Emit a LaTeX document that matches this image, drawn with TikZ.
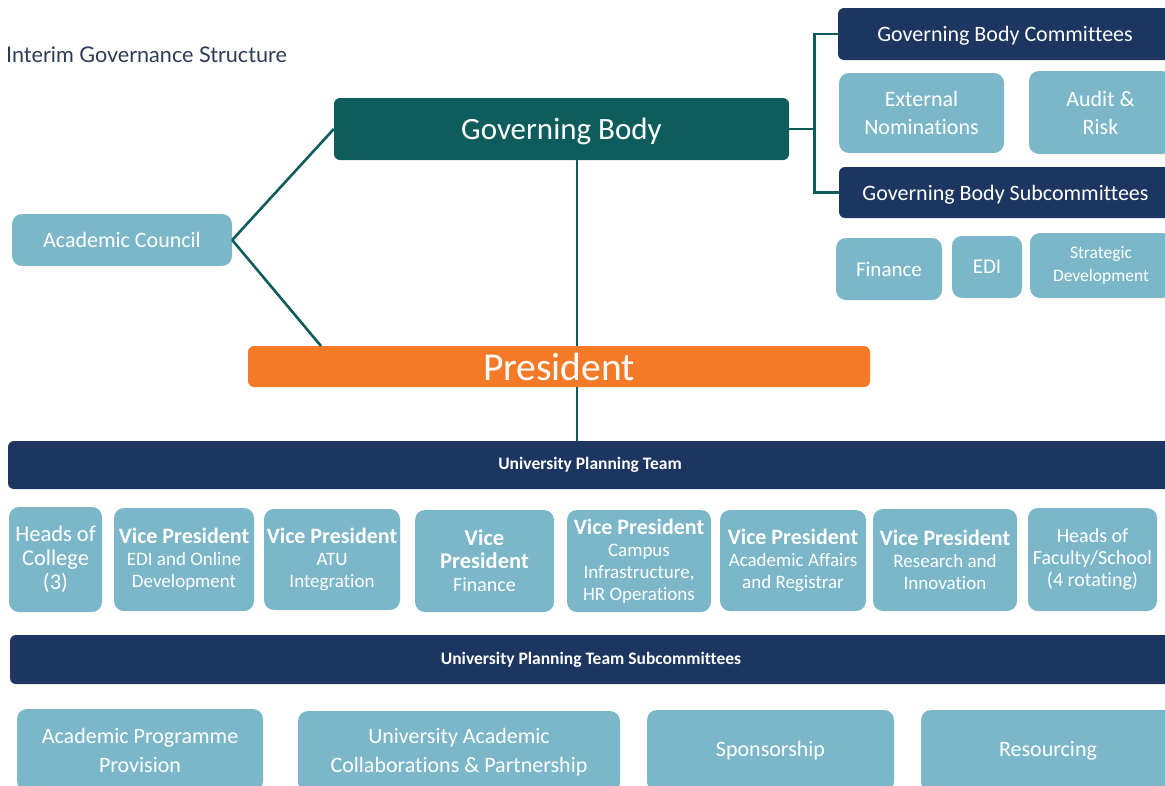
\documentclass[tikz,border=0pt]{standalone}
\usepackage{fontspec}
\setmainfont{Carlito}[Ligatures=NoCommon]
\newfontfamily\headfont{Lato}
\definecolor{gbteal}{HTML}{0E5C5C}
\definecolor{navy}{HTML}{1C3661}
\definecolor{lightblue}{HTML}{7BB7C8}
\definecolor{presorange}{HTML}{F47A28}
\definecolor{titlecol}{HTML}{2D3B55}
\newcommand\setfs[2]{\fontsize{#1}{#2}\selectfont}
\newcommand\vp{{\setfs{22}{22}\bfseries Vice President}}
\begin{document}
\begin{tikzpicture}[x=1pt,y=-1pt,
  box/.style={rounded corners=6pt, text=white, align=center, inner sep=0pt},
  darkbox/.style={box, fill=gbteal},
  navybox/.style={box, fill=navy},
  lightbox/.style={box, fill=lightblue, rounded corners=10pt},
  rowbox/.style={lightbox, font=\setfs{19}{22}},
  lowbox/.style={lightbox, font=\setfs{22}{29}, minimum height=82},
  link/.style={draw=gbteal, line width=2.6pt},
  ]
\useasboundingbox (0,0) rectangle (1165,785);
\clip (0,0) rectangle (1165,785);

\node[anchor=base west, text=titlecol, font=\headfont\setfs{21.6}{24}, inner sep=0pt] (title) at (6,62) {Interim Governance Structure};

% governing body side
\node[darkbox, minimum width=455, minimum height=62, text depth=0pt, font=\setfs{31}{34}] (gb) at (561.5,129) {Governing Body};
\node[lightbox, minimum width=220, minimum height=52, font=\setfs{22}{24}] (ac) at (122,240) {Academic Council};
\node[box, fill=presorange, minimum width=622, minimum height=41, font=\setfs{39.5}{40}] (pres) at (559,366.5) {President};

\node[navybox, minimum width=334, minimum height=52, text depth=0pt, font=\setfs{22}{24}] (gbc) at (1005,34) {Governing Body Committees};
\node[lightbox, minimum width=165, minimum height=80, font=\setfs{22}{28}] (extnom) at (921.5,113) {External\\Nominations};
\node[lightbox, minimum width=143, minimum height=83, font=\setfs{22}{28}] (audit) at (1100.5,112.5) {Audit \&\\Risk};
\node[navybox, minimum width=333, minimum height=51, text depth=0pt, font=\setfs{22}{24}] (gbs) at (1005.5,192.5) {Governing Body Subcommittees};
\node[lightbox, minimum width=106, minimum height=62, font=\setfs{21}{24}] (fin) at (889,269) {Finance};
\node[lightbox, minimum width=70, minimum height=62, font=\setfs{21}{24}] (edi) at (987,267) {EDI};
\node[lightbox, minimum width=142, minimum height=65, font=\setfs{17.5}{23}] (strat) at (1101,265.5) {Strategic\\Development};

% planning team
\node[navybox, minimum width=1164, minimum height=48, font=\setfs{17.5}{18}\bfseries] (upt) at (590,465) {University Planning Team};

\node[rowbox, minimum width=93, minimum height=105, font=\setfs{22.5}{24}] (hoc) at (55.5,559.5) {Heads of\\College\\(3)};
\node[rowbox, minimum width=140, minimum height=103] (vpedi) at (184,559.5) {\vp\\EDI and Online\\Development};
\node[rowbox, minimum width=136, minimum height=101] (vpatu) at (332,559.5) {\vp\\ATU\\Integration};
\node[rowbox, minimum width=139, minimum height=102, font=\setfs{20}{23}] (vpfin) at (484.5,561) {{\setfs{22.5}{23}\bfseries Vice}\\{\setfs{22.5}{23}\bfseries President}\\Finance};
\node[rowbox, minimum width=144, minimum height=102] (vpcam) at (639,561) {\vp\\Campus\\Infrastructure,\\HR Operations};
\node[rowbox, minimum width=146, minimum height=101] (vpaca) at (793,560.5) {\vp\\Academic Affairs\\and Registrar};
\node[rowbox, minimum width=144, minimum height=102] (vpres) at (945,560) {\vp\\Research and\\Innovation};
\node[rowbox, minimum width=129, minimum height=103, font=\setfs{20}{22}] (hof) at (1092.5,559.5) {Heads of\\Faculty/School\\(4 rotating)};

\node[navybox, minimum width=1162, minimum height=49, font=\setfs{17.5}{18}\bfseries] (upts) at (591,659.5) {University Planning Team Subcommittees};

\node[lowbox, minimum width=246] (app) at (140,750) {Academic Programme\\Provision};
\node[lowbox, minimum width=322] (uac) at (459,752) {University Academic\\Collaborations \& Partnership};
\node[lowbox, minimum width=247] (spon) at (770.5,751) {Sponsorship};
\node[lowbox, minimum width=254] (resc) at (1048,751) {Resourcing};

% connectors
\coordinate (spine) at (577,0);
\coordinate (pk) at (321,346);
\draw[link] (ac.east) -- (gb.west);
\draw[link] (ac.east) -- (pk);
\draw[link] (gb.south -| spine) -- (pres.north -| spine);
\draw[link] (pres.south -| spine) -- (upt.north -| spine);
\draw[link] (gb.east) -- ++(25,0) coordinate (br);
\draw[link] (gbc.west) -| (br) |- (gbs.west);

\end{tikzpicture}
\end{document}
